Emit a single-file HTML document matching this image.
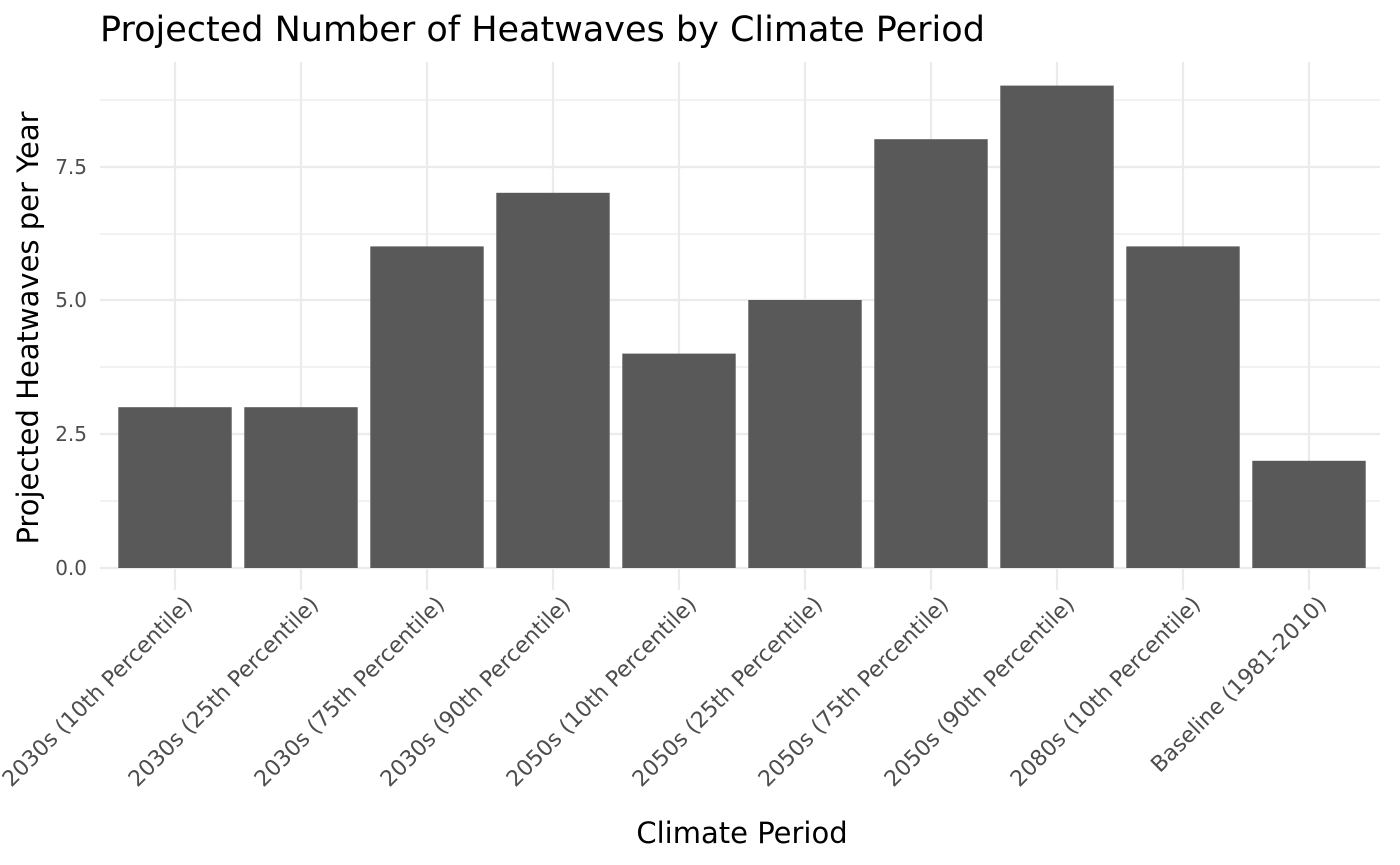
<!DOCTYPE html>
<html><head><meta charset="utf-8"><style>
html,body{margin:0;padding:0;background:#fff;}
svg{display:block;font-family:"DejaVu Sans","Liberation Sans",sans-serif;}
</style></head><body>
<svg width="1400" height="865" viewBox="0 0 1400 865" xmlns="http://www.w3.org/2000/svg">
<rect width="1400" height="865" fill="#fff"/>
<g stroke="#ebebeb" stroke-width="1.2">
<line x1="100" x2="1380" y1="501" y2="501"/>
<line x1="100" x2="1380" y1="367" y2="367"/>
<line x1="100" x2="1380" y1="234" y2="234"/>
<line x1="100" x2="1380" y1="100" y2="100"/>
</g>
<g stroke="#ebebeb" stroke-width="2.2">
<line x1="100" x2="1380" y1="568" y2="568"/>
<line x1="100" x2="1380" y1="434" y2="434"/>
<line x1="100" x2="1380" y1="300" y2="300"/>
<line x1="100" x2="1380" y1="167" y2="167"/>
<line x1="175" x2="175" y1="62" y2="590"/>
<line x1="301" x2="301" y1="62" y2="590"/>
<line x1="427" x2="427" y1="62" y2="590"/>
<line x1="553" x2="553" y1="62" y2="590"/>
<line x1="679" x2="679" y1="62" y2="590"/>
<line x1="805" x2="805" y1="62" y2="590"/>
<line x1="931" x2="931" y1="62" y2="590"/>
<line x1="1057" x2="1057" y1="62" y2="590"/>
<line x1="1183" x2="1183" y1="62" y2="590"/>
<line x1="1309" x2="1309" y1="62" y2="590"/>
</g>
<g fill="#595959">
<rect x="118.3" y="407.2" width="113.4" height="160.8"/>
<rect x="244.3" y="407.2" width="113.4" height="160.8"/>
<rect x="370.3" y="246.4" width="113.4" height="321.6"/>
<rect x="496.3" y="192.8" width="113.4" height="375.2"/>
<rect x="622.3" y="353.6" width="113.4" height="214.4"/>
<rect x="748.3" y="300" width="113.4" height="268"/>
<rect x="874.3" y="139.2" width="113.4" height="428.8"/>
<rect x="1000.3" y="85.6" width="113.4" height="482.4"/>
<rect x="1126.3" y="246.4" width="113.4" height="321.6"/>
<rect x="1252.3" y="460.8" width="113.4" height="107.2"/>
</g>
<g fill="#4d4d4d" font-size="20" text-anchor="end">
<text x="87" y="575">0.0</text>
<text x="87" y="441">2.5</text>
<text x="87" y="307">5.0</text>
<text x="87" y="174">7.5</text>
</g>
<g fill="#4d4d4d" font-size="22" text-anchor="end">
<text transform="translate(182,594) rotate(-45)" dy="0.75em">2030s (10th Percentile)</text>
<text transform="translate(308,594) rotate(-45)" dy="0.75em">2030s (25th Percentile)</text>
<text transform="translate(434,594) rotate(-45)" dy="0.75em">2030s (75th Percentile)</text>
<text transform="translate(560,594) rotate(-45)" dy="0.75em">2030s (90th Percentile)</text>
<text transform="translate(686,594) rotate(-45)" dy="0.75em">2050s (10th Percentile)</text>
<text transform="translate(812,594) rotate(-45)" dy="0.75em">2050s (25th Percentile)</text>
<text transform="translate(938,594) rotate(-45)" dy="0.75em">2050s (75th Percentile)</text>
<text transform="translate(1064,594) rotate(-45)" dy="0.75em">2050s (90th Percentile)</text>
<text transform="translate(1190,594) rotate(-45)" dy="0.75em">2080s (10th Percentile)</text>
<text transform="translate(1316,594) rotate(-45)" dy="0.75em">Baseline (1981-2010)</text>
</g>
<text x="742" y="843" font-size="29" text-anchor="middle" fill="#000">Climate Period</text>
<text transform="translate(38,328) rotate(-90)" font-size="29" text-anchor="middle" fill="#000">Projected Heatwaves per Year</text>
<text x="100" y="41" font-size="35" fill="#000">Projected Number of Heatwaves by Climate Period</text>
</svg>
</body></html>
